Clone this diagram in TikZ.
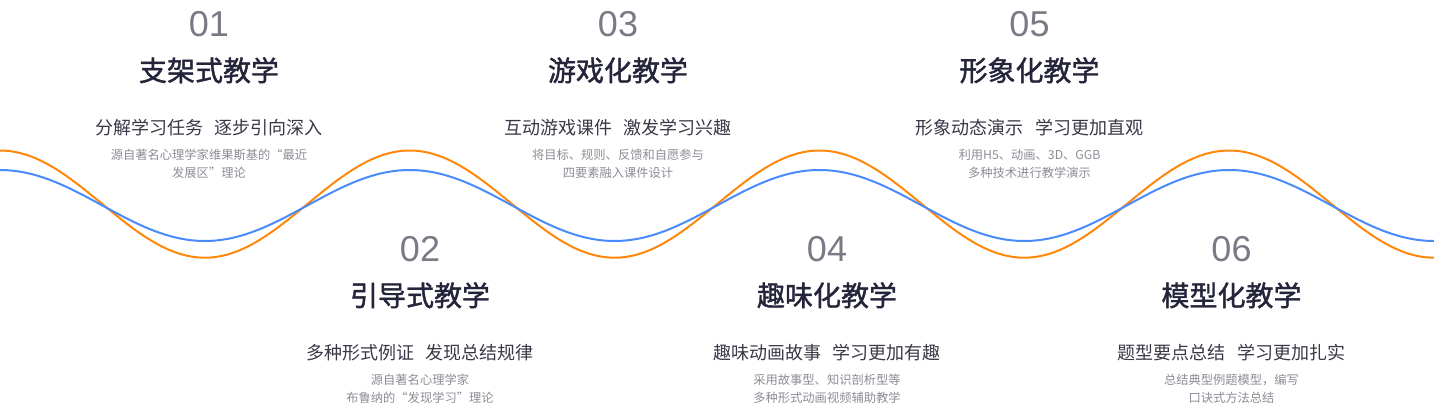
\documentclass[tikz,border=0pt]{standalone}
\usepackage{fontspec}
\setmainfont{Noto Sans CJK SC}
\newfontfamily\teachdigits{Liberation Sans}
\newfontfamily\teachheavy[FakeBold=1.4]{Noto Sans CJK SC}
\definecolor{teachOrange}{HTML}{FF870A}
\definecolor{teachBlue}{HTML}{4A8BFB}
\definecolor{teachGray}{HTML}{7A7A86}
\definecolor{teachInk}{HTML}{24243A}
\definecolor{teachText}{HTML}{383847}
\definecolor{teachNote}{HTML}{8C8C95}
\tikzset{
  teach diagram/.style={
    x=0.75pt, y=-0.75pt,
    every node/.style={inner sep=0pt, outer sep=0pt, anchor=base}
  },
  teach num/.style={font=\teachdigits\fontsize{27}{32}\selectfont, text=teachGray},
  teach title/.style={font=\teachheavy\fontsize{21}{25}\selectfont, text=teachInk},
  teach sub/.style={font=\fontsize{13.5}{16}\selectfont, text=teachText},
  teach note/.style={font=\fontsize{9.2}{11}\selectfont, text=teachNote},
  teach wave/.style={line width=1.5pt, domain=0:1434, samples=240, smooth}
}
% #1 name, #2 x, #3 y shift, #4 number, #5 title, #6 sub, #7/#8 note lines
\newcommand{\TeachStep}[8]{%
  \node[teach num] (#1num) at (#2,{36+#3}) {#4};
  \node[teach title] (#1title) at (#2,{81+#3}) {#5};
  \node[teach sub] (#1sub) at (#2,{134.5+#3}) {#6};
  \node[teach note] (#1noteA) at (#2,{159+#3}) {#7};
  \node[teach note] (#1noteB) at (#2,{177.4+#3}) {#8};
}
\newcommand{\teachgap}{\hspace{0.65em}}

\begin{document}
\begin{tikzpicture}[teach diagram]
  \useasboundingbox (0,0) rectangle (1434,415);
  % two waves
  \draw[teach wave, teachOrange] plot (\x,{204.1-53.6*cos(\x/409.71*360)});
  \draw[teach wave, teachBlue] plot (\x,{205.5-35.5*cos(\x/409.71*360)});
  % upper steps
  \TeachStep{scaffold}{209}{0}{01}{支架式教学}
    {分解学习任务\teachgap 逐步引向深入}
    {源自著名心理学家维果斯基的“最近}{发展区”理论}
  \TeachStep{game}{618}{0}{03}{游戏化教学}
    {互动游戏课件\teachgap 激发学习兴趣}
    {将目标、规则、反馈和自愿参与}{四要素融入课件设计}
  \TeachStep{image}{1029.5}{0}{05}{形象化教学}
    {形象动态演示\teachgap 学习更加直观}
    {利用H5、动画、3D、GGB}{多种技术进行教学演示}
  % lower steps
  \TeachStep{guide}{420}{225}{02}{引导式教学}
    {多种形式例证\teachgap 发现总结规律}
    {源自著名心理学家}{布鲁纳的“发现学习”理论}
  \TeachStep{fun}{827}{225}{04}{趣味化教学}
    {趣味动画故事\teachgap 学习更加有趣}
    {采用故事型、知识剖析型等}{多种形式动画视频辅助教学}
  \TeachStep{model}{1231.5}{225}{06}{模型化教学}
    {题型要点总结\teachgap 学习更加扎实}
    {总结典型例题模型，编写}{口诀式方法总结}
\end{tikzpicture}
\end{document}
